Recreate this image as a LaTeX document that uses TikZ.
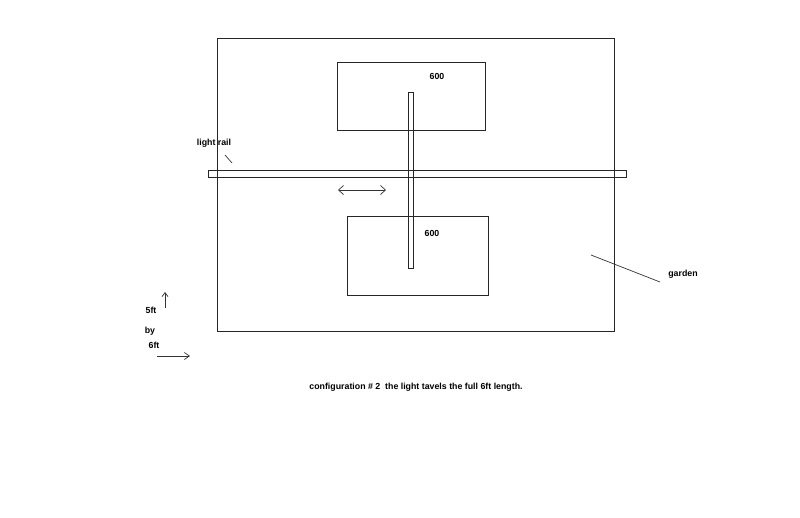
\documentclass[tikz,border=0pt]{standalone}
\usepackage{fontspec}
\setmainfont{Liberation Sans}
\usetikzlibrary{arrows.meta}
\begin{document}
\begin{tikzpicture}[x=1pt,y=-1pt,
  box/.style={draw=black!85,line width=0.8pt},
  lbl/.style={font=\fontsize{8.8}{10}\selectfont\bfseries,inner sep=0pt},
  ln/.style={draw=black!80,line width=0.7pt}]
\useasboundingbox (0,0) rectangle (800,517);
\node[box,minimum width=397pt,minimum height=293pt,inner sep=0pt,anchor=north west] (garden) at (217,38) {};
\node[box,minimum width=148pt,minimum height=68pt,inner sep=0pt,anchor=north west] (top) at (337,62) {};
\node[box,minimum width=141pt,minimum height=79pt,inner sep=0pt,anchor=north west] (bot) at (347,216) {};
\node[box,minimum width=418pt,minimum height=7pt,inner sep=0pt,anchor=north west] (rail) at (208,170) {};
\node[box,minimum width=5pt,minimum height=176pt,inner sep=0pt,anchor=north west] (bar) at (408,92) {};
\node[lbl] (t600a) at (437,76) {600};
\node[lbl] (t600b) at (432,233) {600};
\node[lbl] (lr) at (214,143) {light rail};
\coordinate (lra) at (225,155);
\coordinate (lrb) at (232,163);
\draw[ln] (lra) -- (lrb);
\coordinate (da) at (338,190);
\coordinate (db) at (386,190);
\draw[ln,{Straight Barb[length=5pt,width=9pt]}-{Straight Barb[length=5pt,width=9pt]}] (da) -- (db);
\node[lbl] (gd) at (683,274) {garden};
\coordinate (ga) at (591,255);
\coordinate (gb) at (660,282);
\draw[ln] (ga) -- (gb);
\node[lbl] (f5) at (151,310) {5ft};
\coordinate (ua) at (165,308);
\coordinate (ub) at (165,292);
\draw[ln,-{Straight Barb[length=4pt,width=6pt]}] (ua) -- (ub);
\node[lbl] (by) at (150,331) {by};
\node[lbl] (f6) at (154,345) {6ft};
\coordinate (ra) at (157,356);
\coordinate (rb) at (190,356);
\draw[ln,-{Straight Barb[length=5pt,width=7pt]}] (ra) -- (rb);
\node[lbl] (cap) at (416,387) {configuration \# 2\ \ the light tavels the full 6ft length.};
\end{tikzpicture}
\end{document}
